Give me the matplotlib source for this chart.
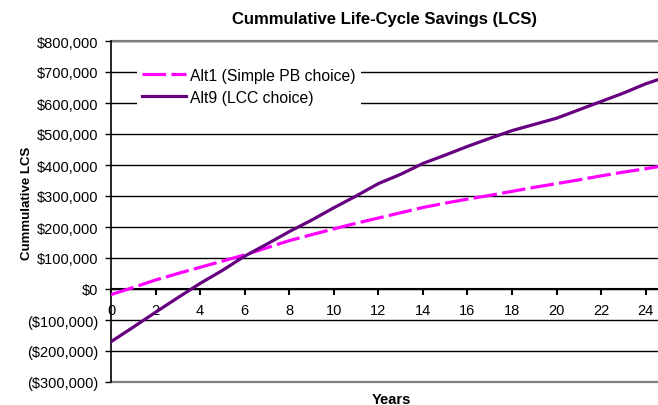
import matplotlib
matplotlib.use("Agg")
import matplotlib.pyplot as plt
from matplotlib.ticker import FuncFormatter, MultipleLocator

plt.rcParams['font.family'] = ['Liberation Sans', 'DejaVu Sans']
plt.rcParams['lines.scale_dashes'] = False

# yearly cumulative savings
years = list(range(0, 26))
alt1 = [-18000, 5000, 29000, 50000, 70000, 90000, 110000, 133000, 156000, 175000,
        194000, 212000, 229000, 246000, 263000, 277000, 290000, 302000, 315000, 328000,
        340000, 352000, 365000, 377000, 388000, 400000]
alt9 = [-170000, -123000, -75000, -28000, 18000, 60000, 106000, 145000, 185000, 222000,
        262000, 300000, 340000, 370000, 405000, 432000, 460000, 486000, 511000, 531000,
        551000, 578000, 605000, 632000, 662000, 686000]
labels = ['Alt1 (Simple PB choice)', 'Alt9 (LCC choice)']


def money(v, pos):
    if v < 0:
        return '(${:,.0f})'.format(-v)
    return '${:,.0f}'.format(v)


fig = plt.figure(figsize=(6.58, 4.06), dpi=100)
ax = fig.add_axes([111 / 658, 1 - 383 / 406, 547 / 658, 341 / 406])

ax.plot(years, alt1, color='#ff00ff', lw=2.3, dashes=[17, 3.8], label=labels[0],
        solid_capstyle='butt', dash_capstyle='butt', zorder=3)
ax.plot(years, alt9, color='#660080', lw=2.3, label=labels[1], zorder=3)

ax.set_xlim(0, 24.55)
ax.set_ylim(-300000, 800000)
ax.yaxis.set_major_locator(MultipleLocator(100000))
ax.yaxis.set_major_formatter(FuncFormatter(money))
ax.xaxis.set_major_locator(MultipleLocator(2))

ax.yaxis.grid(True, color='black', lw=1.0)
ax.set_axisbelow(True)
ax.axhline(800000, color='#808080', lw=1.6, zorder=2, clip_on=False)
ax.axhline(-300000, color='#808080', lw=1.6, zorder=2, clip_on=False)

ax.spines['right'].set_visible(False)
ax.spines['top'].set_visible(False)
ax.spines['bottom'].set_position(('data', 0))
ax.spines['bottom'].set_linewidth(1.5)
ax.spines['left'].set_linewidth(1.2)

ax.tick_params(axis='y', direction='out', length=4, width=1, labelsize=10.5, pad=5)
ax.tick_params(axis='x', direction='out', length=4, width=1.5, labelsize=10.5, pad=6)

ax.set_title('Cummulative Life-Cycle Savings (LCS)', fontsize=12, fontweight='bold', pad=13)
ax.set_ylabel('Cummulative LCS', fontsize=9.5, fontweight='bold')
ax.yaxis.set_label_coords(-78 / 547, (383 - 203) / 341)
ax.set_xlabel('Years', fontsize=10.5, fontweight='bold')
ax.xaxis.set_label_coords((391 - 111) / 547, -10 / 341)

leg = ax.legend(loc='upper left', bbox_to_anchor=(26 / 547, 1 - 22 / 341),
                borderaxespad=0, frameon=True, facecolor='white', edgecolor='none',
                framealpha=1, fancybox=False, fontsize=11.3, handlelength=2.8,
                handletextpad=0.3, labelspacing=0.45, borderpad=0.3)
leg.set_zorder(4)

fig.savefig('out.png', dpi=100)
